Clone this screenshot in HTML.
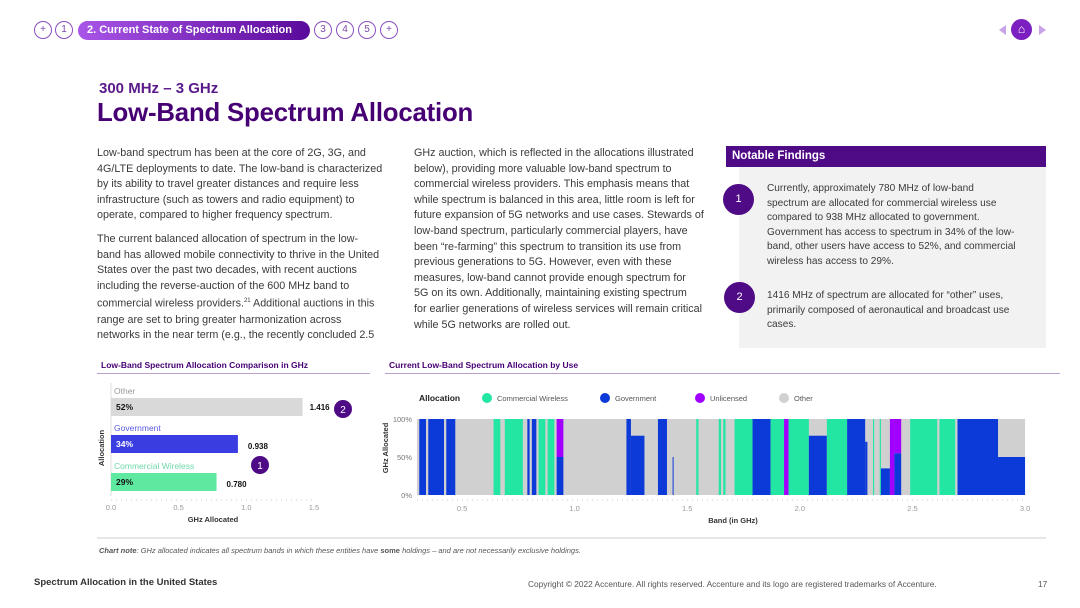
<!DOCTYPE html>
<html><head><meta charset="utf-8"><style>
*{margin:0;padding:0;box-sizing:border-box}
body{width:1080px;height:608px;background:#fff;font-family:"Liberation Sans",sans-serif;position:relative;overflow:hidden;color:#333}
.a{position:absolute}
.nc{position:absolute;top:21px;width:18px;height:18px;border:1px solid #8a4fc0;border-radius:50%;font-size:10px;color:#7a4aa8;text-align:center;line-height:16px}
.p{position:absolute;font-size:10.75px;line-height:15.6px;color:#3a3a3a;white-space:nowrap}
.t{font-size:8.5px;font-weight:bold;color:#460073}
</style></head><body>
<div class="nc" style="left:34px">+</div>
<div class="nc" style="left:55px">1</div>
<div class="a" style="left:78px;top:21px;width:232px;height:19px;border-radius:10px;background:linear-gradient(90deg,#a855e8,#5a0a9a);color:#fff;font-size:11px;font-weight:bold;line-height:19px;padding-left:9px">2. Current State of Spectrum Allocation</div>
<div class="nc" style="left:314px">3</div>
<div class="nc" style="left:336px">4</div>
<div class="nc" style="left:358px">5</div>
<div class="nc" style="left:380px">+</div>
<div class="a" style="left:999px;top:25px;width:0;height:0;border-top:5px solid transparent;border-bottom:5px solid transparent;border-right:7px solid #c9a3e8"></div>
<div class="a" style="left:1011px;top:19px;width:21px;height:21px;border-radius:50%;background:#7b1fc0;color:#fff;font-size:12px;text-align:center;line-height:21px">⌂</div>
<div class="a" style="left:1039px;top:25px;width:0;height:0;border-top:5px solid transparent;border-bottom:5px solid transparent;border-left:7px solid #c9a3e8"></div>

<div class="a" style="left:99px;top:80px;font-size:15px;font-weight:bold;color:#5a1a8a">300 MHz – 3 GHz</div>
<div class="a" style="left:97px;top:99px;font-size:25.8px;font-weight:bold;color:#460073;letter-spacing:-0.2px">Low-Band Spectrum Allocation</div>

<div class="p" style="left:97px;top:146px">Low-band spectrum has been at the core of 2G, 3G, and<br>4G/LTE deployments to date. The low-band is characterized<br>by its ability to travel greater distances and require less<br>infrastructure (such as towers and radio equipment) to<br>operate, compared to higher frequency spectrum.<br><span style="display:block;height:8px"></span>The current balanced allocation of spectrum in the low-<br>band has allowed mobile connectivity to thrive in the United<br>States over the past two decades, with recent auctions<br>including the reverse-auction of the 600 MHz band to<br>commercial wireless providers.<sup style="font-size:6px">21</sup> Additional auctions in this<br>range are set to bring greater harmonization across<br>networks in the near term (e.g., the recently concluded 2.5</div>
<div class="p" style="left:414px;top:146px">GHz auction, which is reflected in the allocations illustrated<br>below), providing more valuable low-band spectrum to<br>commercial wireless providers. This emphasis means that<br>while spectrum is balanced in this area, little room is left for<br>future expansion of 5G networks and use cases. Stewards of<br>low-band spectrum, particularly commercial players, have<br>been “re-farming” this spectrum to transition its use from<br>previous generations to 5G. However, even with these<br>measures, low-band cannot provide enough spectrum for<br>5G on its own. Additionally, maintaining existing spectrum<br>for earlier generations of wireless services will remain critical<br>while 5G networks are rolled out.</div>

<div class="a" style="left:726px;top:146px;width:320px;height:21px;background:#4f0a85;color:#fff;font-size:11.5px;font-weight:bold;line-height:21px;padding-left:6px">Notable Findings</div>
<div class="a" style="left:739px;top:167px;width:307px;height:181px;background:#f2f2f2"></div>
<div class="a" style="left:723px;top:184px;width:31px;height:31px;border-radius:50%;background:#4f0a85;color:#fff;font-size:11px;text-align:center;line-height:31px">1</div>
<div class="a" style="left:724px;top:282px;width:31px;height:31px;border-radius:50%;background:#4f0a85;color:#fff;font-size:11px;text-align:center;line-height:31px">2</div>
<div class="p" style="left:767px;top:182px;font-size:10.1px;line-height:14.6px">Currently, approximately 780 MHz of low-band<br>spectrum are allocated for commercial wireless use<br>compared to 938 MHz allocated to government.<br>Government has access to spectrum in 34% of the low-<br>band, other users have access to 52%, and commercial<br>wireless has access to 29%.</div>
<div class="p" style="left:767px;top:289px;font-size:10.1px;line-height:14.6px">1416 MHz of spectrum are allocated for “other” uses,<br>primarily composed of aeronautical and broadcast use<br>cases.</div>

<div class="a t" style="left:101px;top:360px">Low-Band Spectrum Allocation Comparison in GHz</div>
<div class="a" style="left:97px;top:373px;width:273px;height:1px;background:#b9a0cc"></div>
<div class="a t" style="left:389px;top:360px">Current Low-Band Spectrum Allocation by Use</div>
<div class="a" style="left:385px;top:373px;width:675px;height:1px;background:#b9a0cc"></div>

<svg class="a" style="left:0;top:0" width="1080" height="608" id="charts">
<g id="bars"></g><g id="bands"></g>
</svg>

<div class="a" style="left:97px;top:537px;width:949px;height:2px;background:#e6e6e6"></div>
<div class="a" style="left:99px;top:546px;font-size:7.5px;color:#555;font-style:italic"><b>Chart note</b>: GHz allocated indicates all spectrum bands in which these entities have <b style="font-style:normal">some</b> holdings – and are not necessarily exclusive holdings.</div>
<div class="a" style="left:34px;top:577px;font-size:9.5px;font-weight:bold;color:#333">Spectrum Allocation in the United States</div>
<div class="a" style="left:528px;top:579px;font-size:8.3px;color:#555">Copyright © 2022 Accenture. All rights reserved. Accenture and its logo are registered trademarks of Accenture.</div>
<div class="a" style="left:1038px;top:579px;font-size:8.3px;color:#555">17</div>

<script>
const NS='http://www.w3.org/2000/svg';
// bar chart data
const barCats=['Other','Government','Commercial Wireless'];
const barVals=[1.416,0.938,0.780];
const barPct=['52%','34%','29%'];
const barTicks=[0,0.5,1.0,1.5];
// band chart data
const bandStart=[0.31,0.35,0.43,0.64,0.69,0.79,0.81,0.84,0.88,0.92,1.23,1.25,1.37,1.435,1.54,1.64,1.66,1.71,1.79,1.87,1.93,1.95,2.04,2.12,2.21,2.29,2.325,2.355,2.36,2.40,2.42,2.49,2.62,2.70,2.88];
const bandEnd  =[0.34,0.42,0.47,0.67,0.77,0.80,0.83,0.87,0.91,0.95,1.25,1.31,1.41,1.438,1.55,1.65,1.67,1.79,1.87,1.93,1.95,2.04,2.12,2.21,2.29,2.30,2.33,2.36,2.40,2.42,2.45,2.61,2.69,2.88,3.00];
const bandCW   =[0,0,0,1,1,0,0,1,1,0,0,0,0,0,1,1,1,1,0,1,0,1,0,1,0,0,1,1,0,0,0,1,1,0,0];
const bandGov  =[1,1,1,0,0,1,1,0,0,0.5,1,0.78,1,0.5,0,0,0,0,1,0,0,0,0.78,0,1,0.7,0,0,0.35,0,0.55,0,0,1,0.5];
const bandUnl  =[0,0,0,0,0,0,0,0,0,0.5,0,0,0,0,0,0,0,0,0,0,1,0,0,0,0,0,0,0,0,1,0.45,0,0,0,0];
const bandTicks=[0.5,1.0,1.5,2.0,2.5,3.0];
const yTicks=[0,50,100];
const legendLabels=['Commercial Wireless','Government','Unlicensed','Other'];
const COL={cw:'#22e6a2',gov:'#0c3ad8',unl:'#a100ff',oth:'#d0d0d0'};

function mk(t,a,p){const e=document.createElementNS(NS,t);for(const k in a)e.setAttribute(k,a[k]);p.appendChild(e);return e;}
function tx(s,x,y,a,p){const e=mk('text',Object.assign({x:x,y:y,'font-family':'Liberation Sans, sans-serif'},a),p);e.textContent=s;return e;}

// ---- bar chart ----
const bg=document.getElementById('bars');
const bx=v=>111+v*135.3;
const rowY=[398,435,473], bh=18;
const barFill=['#d9d9d9','#3a3ee0','#5ee8a0'];
const catCol=['#999','#5a5ae0','#6fd9a8'];
const pctCol=['#111','#fff','#111'];
let l=mk('line',{x1:111,y1:383,x2:111,y2:496,stroke:'#ddd'},bg);

l=mk('line',{x1:111,y1:500,x2:314,y2:500,stroke:'#ccc','stroke-dasharray':'1,4'},bg);

barVals.forEach((v,i)=>{
  let r=mk('rect',{x:111,y:rowY[i],width:bx(v)-111,height:bh,fill:barFill[i]},bg);
  
  
  let c=tx(barCats[i],114,rowY[i]-4,{'font-size':8.5,fill:catCol[i]},bg);
  
  let p=tx(barPct[i],116,rowY[i]+12,{'font-size':8.5,'font-weight':'bold',fill:pctCol[i]},bg);
  
  let vl=tx(v.toFixed(3),bx(v)+(i==0?7:10),rowY[i]+(i==0?12:14),{'font-size':8,'font-weight':'bold',fill:'#111'},bg);
  
});
barTicks.forEach(t=>{
  let e=tx(t.toFixed(1),bx(t),510,{'font-size':7.5,fill:'#999','text-anchor':'middle'},bg);
  
});
let e=tx('GHz Allocated',213,522,{'font-size':7.5,'font-weight':'bold',fill:'#333','text-anchor':'middle'},bg);

e=tx('Allocation',0,0,{'font-size':7.5,'font-weight':'bold',fill:'#333','text-anchor':'middle',transform:'translate(104,448) rotate(-90)'},bg);

[[343,409,'2'],[260,465,'1']].forEach(b=>{
  let c=mk('circle',{cx:b[0],cy:b[1],r:9,fill:'#4f0a85'},bg);
  
  let t=tx(b[2],b[0],b[1]+4,{'font-size':10,fill:'#fff','text-anchor':'middle'},bg);
  
});

// ---- band chart ----
const g=document.getElementById('bands');
const X=v=>417+(v-0.3)*225.2, Y0=495, Y1=419;
let r=mk('rect',{x:X(0.3),y:Y1,width:X(3.0)-X(0.3),height:Y0-Y1,fill:COL.oth},g);

bandStart.forEach((s,i)=>{
  const x=X(s),w=Math.max(1,X(bandEnd[i])-x);let acc=0;
  [[bandGov[i],COL.gov,'gov'],[bandCW[i],COL.cw,'commercial'],[bandUnl[i],COL.unl,'unlicensed']].forEach(q=>{
    if(q[0]<=0)return;
    const rr=mk('rect',{x:x,y:Y0-(Y0-Y1)*(acc+q[0]),width:w,height:(Y0-Y1)*q[0],fill:q[1]},g);
    
    
    acc+=q[0];
  });
});
l=mk('line',{x1:X(0.3),y1:500,x2:X(3.0),y2:500,stroke:'#ccc','stroke-dasharray':'1,4'},g);

bandTicks.forEach(t=>{
  let e=tx(t.toFixed(1),X(t),511,{'font-size':7.5,fill:'#999','text-anchor':'middle'},g);
  
});
yTicks.forEach(t=>{
  let e=tx(t+'%',412,Y0-(Y0-Y1)*t/100+3,{'font-size':7.5,fill:'#777','text-anchor':'end'},g);
  
});
e=tx('Band (in GHz)',733,523,{'font-size':7.5,'font-weight':'bold',fill:'#333','text-anchor':'middle'},g);

e=tx('GHz Allocated',0,0,{'font-size':7.5,'font-weight':'bold',fill:'#333','text-anchor':'middle',transform:'translate(388,448) rotate(-90)'},g);

e=tx('Allocation',419,401,{'font-size':8.5,'font-weight':'bold',fill:'#222'},g);

const legX=[487,605,700,784],legC=[COL.cw,COL.gov,COL.unl,COL.oth];
legendLabels.forEach((s,i)=>{
  let c=mk('circle',{cx:legX[i],cy:398,r:5,fill:legC[i]},g);
  
  let t=tx(s,legX[i]+10,401,{'font-size':7.5,fill:'#555'},g);
  
});
</script>
</body></html>
